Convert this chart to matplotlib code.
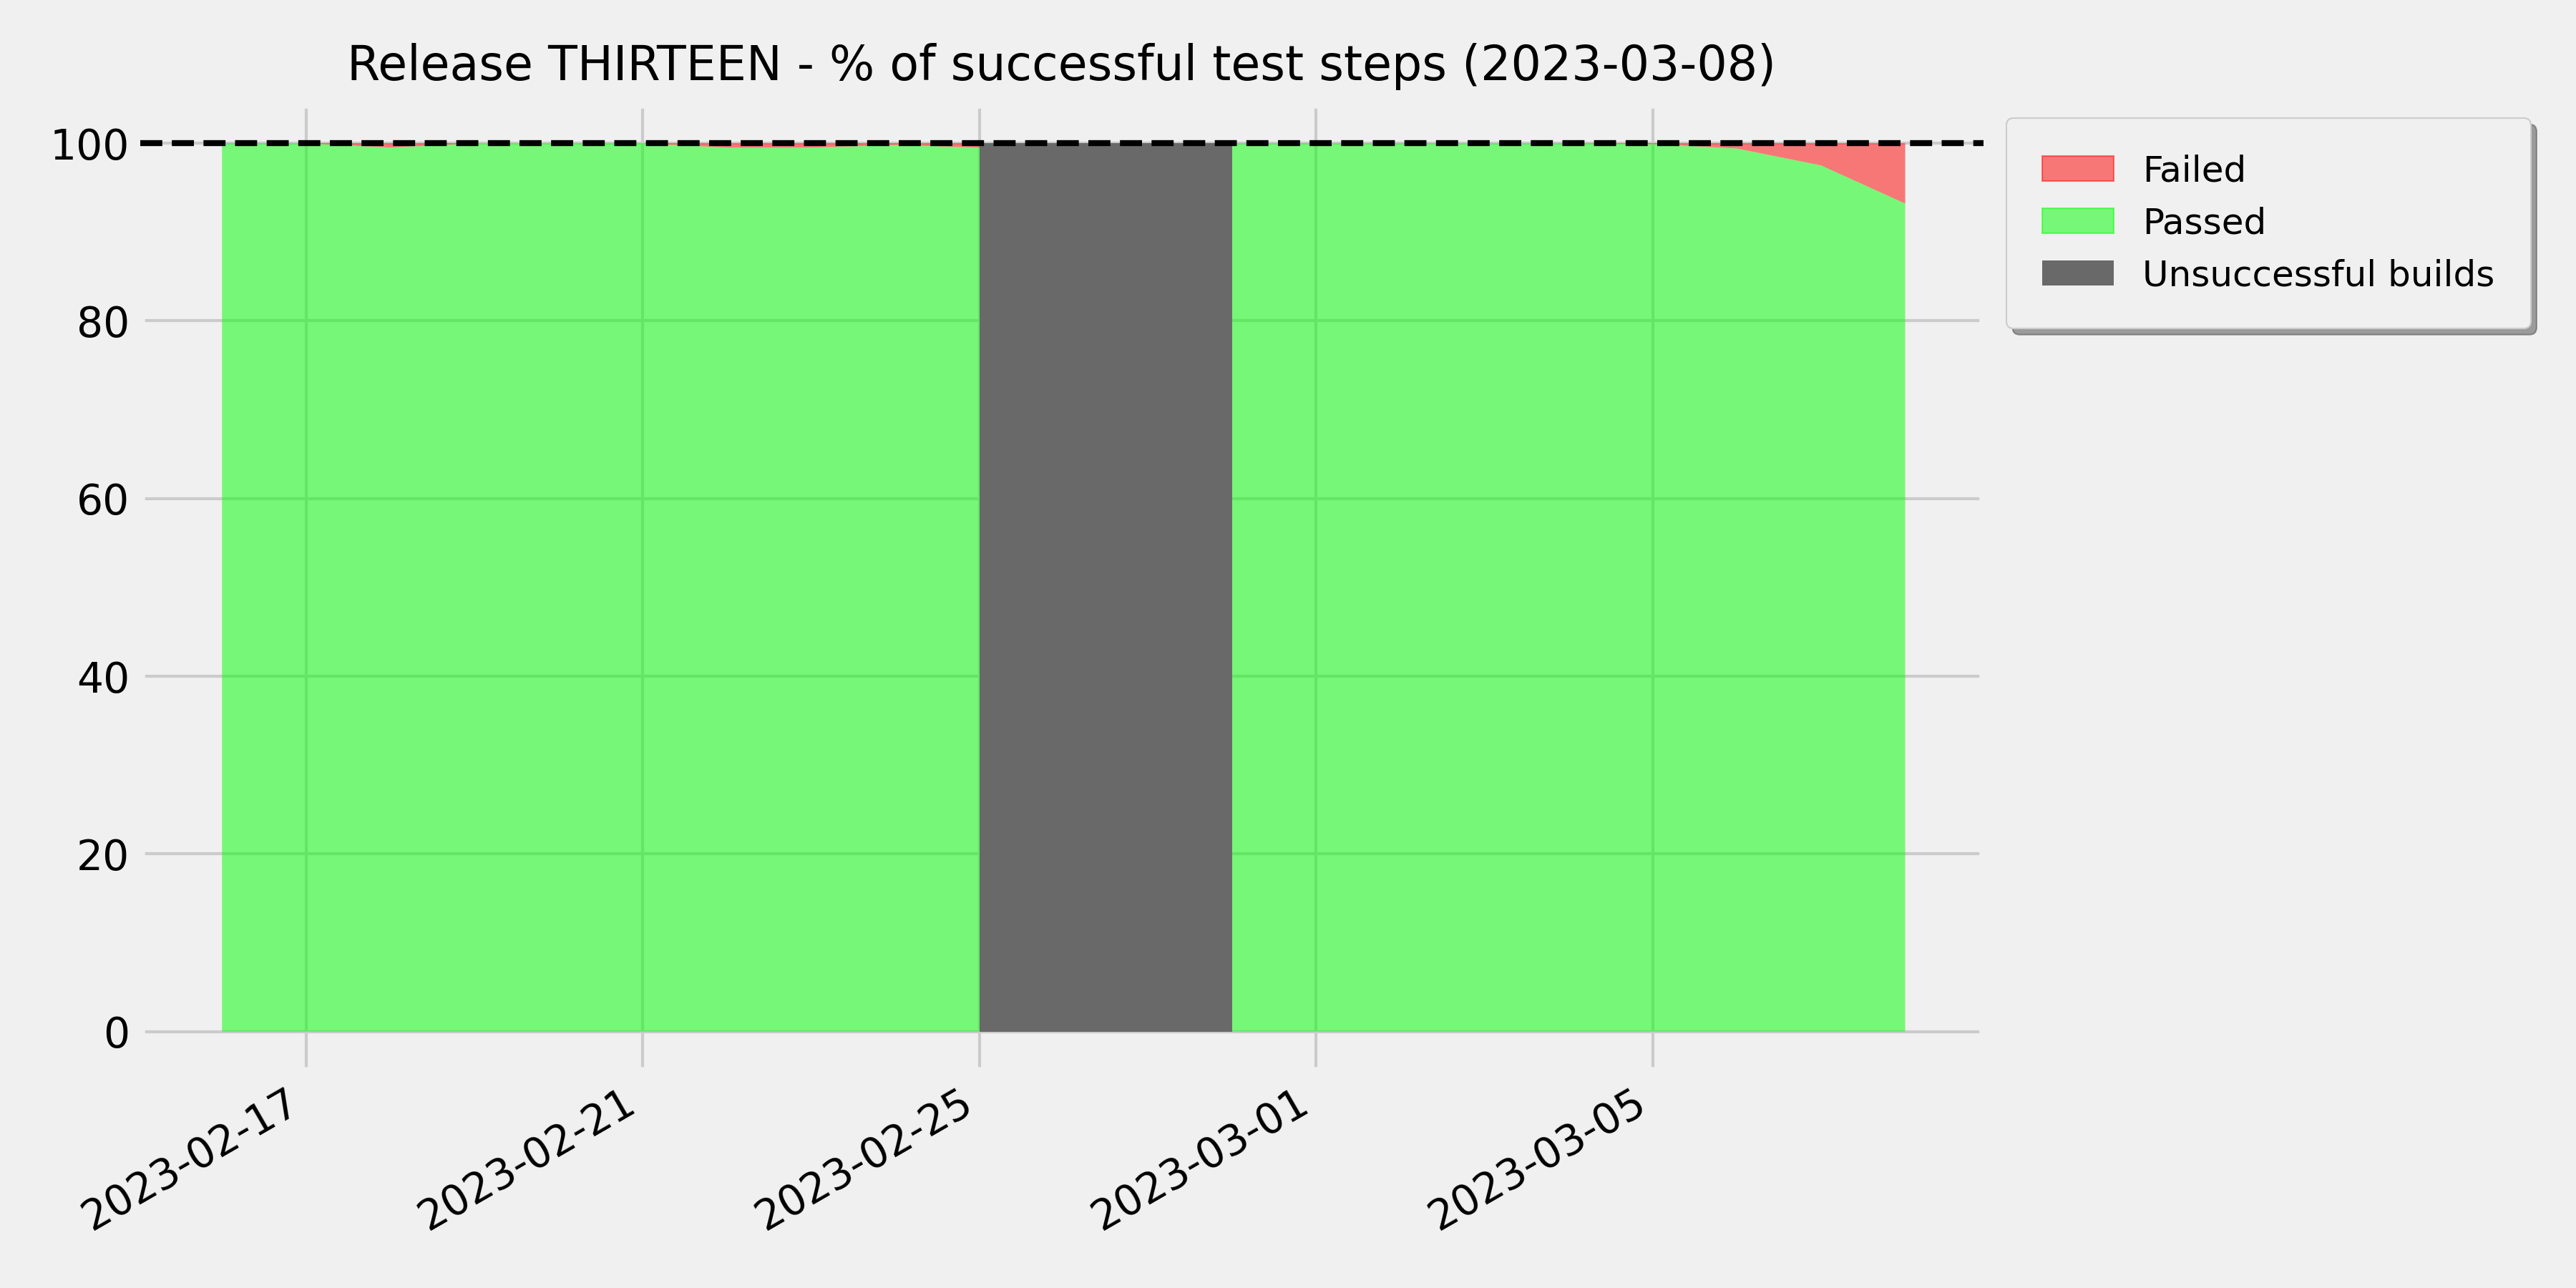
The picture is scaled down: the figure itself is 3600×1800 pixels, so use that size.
import numpy as np
import pandas as pd
import matplotlib
matplotlib.use("Agg")
import matplotlib.pyplot as plt
import matplotlib.dates as mdates
from matplotlib.patches import Patch

plt.style.use("fivethirtyeight")

# daily results of the release test runs
dates = ["2023-02-16", "2023-02-17", "2023-02-18", "2023-02-19", "2023-02-20",
         "2023-02-21", "2023-02-22", "2023-02-23", "2023-02-24", "2023-02-25",
         "2023-02-26", "2023-02-27", "2023-02-28", "2023-03-01", "2023-03-02",
         "2023-03-03", "2023-03-04", "2023-03-05", "2023-03-06", "2023-03-07",
         "2023-03-08"]
passed = [100, 100, 99.5, 100, 100,
          100, 99.5, 99.5, 99.8, 99.5,
          0, 0, 100, 100, 100,
          100, 100, 99.9, 99.4, 97.5,
          93.2]
failed = [0, 0, 0.5, 0, 0,
          0, 0.5, 0.5, 0.2, 0.5,
          0, 0, 0, 0, 0,
          0, 0, 0.1, 0.6, 2.5,
          6.8]
# span covered by the broken builds
unsuccessful = [False] * 9 + [True] * 4 + [False] * 8

x = pd.to_datetime(dates)

fig, ax = plt.subplots(figsize=(12, 6), dpi=300)
fig.subplots_adjust(left=0.0544, right=0.770, bottom=0.1685, top=0.9194)

ax.stackplot(x, passed, failed, colors=["#00ff00", "#ff0000"], alpha=0.5,
             linewidth=0.5)
ax.fill_between(x, 0, 100, where=unsuccessful, color="dimgray", alpha=1,
                linewidth=0, zorder=3)
ax.axhline(100, color="black", linestyle="--", linewidth=2, zorder=4)

ax.set_xlim(pd.Timestamp("2023-02-15 00:40"), pd.Timestamp("2023-03-08 22:20"))
ax.set_ylim(-4.43, 104.43)
ax.xaxis.set_major_locator(mdates.DayLocator(bymonthday=[1, 5, 17, 21, 25]))
ax.xaxis.set_major_formatter(mdates.DateFormatter("%Y-%m-%d"))
ax.tick_params(labelsize=14)
plt.setp(ax.get_xticklabels(), rotation=30, ha="right")

ax.set_title("Release THIRTEEN - % of successful test steps (2023-03-08)",
             fontsize=16, pad=8)

handles = [Patch(facecolor="#ff0000", edgecolor="#ff0000", alpha=0.5, label="Failed"),
           Patch(facecolor="#00ff00", edgecolor="#00ff00", alpha=0.5, label="Passed"),
           Patch(facecolor="dimgray", label="Unsuccessful builds")]
ax.legend(handles=handles, loc="upper left", bbox_to_anchor=(1.0125, 0.985),
          fontsize=12, shadow=True, fancybox=True, borderaxespad=0,
          borderpad=1.0, facecolor="#f0f0f0", edgecolor="#cccccc", framealpha=1)

fig.savefig("out.png", dpi=300)
